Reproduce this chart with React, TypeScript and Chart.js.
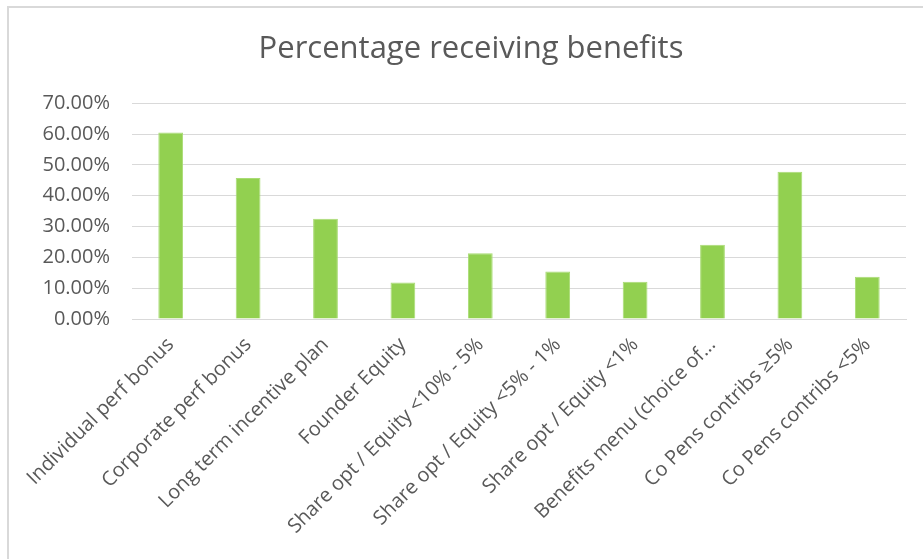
import React, { useEffect, useRef } from "react";
import { Chart, registerables } from "chart.js";

Chart.register(...registerables);

const TITLE = "Percentage receiving benefits";
const CATEGORIES = [
  "Individual perf bonus",
  "Corporate perf bonus",
  "Long term incentive plan",
  "Founder Equity",
  "Share opt / Equity <10% - 5%",
  "Share opt / Equity <5% - 1%",
  "Share opt / Equity <1%",
  "Benefits menu (choice of...",
  "Co Pens contribs \u22655%",
  "Co Pens contribs <5%",
];
const VALUES = [60.5, 45.7, 32.5, 11.8, 21.3, 15.4, 12.1, 24.1, 47.8, 13.7];
const Y_MIN = 0;
const Y_MAX = 70;
const Y_STEP = 10;

const FONT = "'Open Sans', 'Liberation Sans', sans-serif";
const TEXT_COLOR = "#595959";

export default function App() {
  const ref = useRef<HTMLCanvasElement | null>(null);

  useEffect(() => {
    if (!ref.current) return;
    const chart = new Chart(ref.current, {
      type: "bar",
      data: {
        labels: CATEGORIES,
        datasets: [
          {
            label: "Percentage",
            data: VALUES,
            backgroundColor: "#92D050",
            borderColor: "#A9DC74",
            borderWidth: 1,
            categoryPercentage: 1,
            barPercentage: 0.32,
          },
        ],
      },
      options: {
        responsive: false,
        animation: false,
        layout: { padding: { left: 36, right: 17, top: 0, bottom: 0 } },
        plugins: {
          legend: { display: false },
          tooltip: { enabled: false },
          title: {
            display: true,
            text: TITLE,
            color: TEXT_COLOR,
            font: { family: FONT, size: 31, weight: "normal", lineHeight: 1.2 },
            padding: { top: 31, bottom: 35 },
          },
        },
        scales: {
          x: {
            grid: { display: false, drawTicks: false },
            border: { display: true, color: "#d9d9d9", width: 1 },
            ticks: {
              color: TEXT_COLOR,
              font: { family: FONT, size: 20 },
              maxRotation: 45,
              minRotation: 45,
              padding: 14,
              autoSkip: false,
            },
            afterFit: (scale: any) => {
              scale.height = 240;
            },
          },
          y: {
            min: Y_MIN,
            max: Y_MAX,
            grid: { color: "#d9d9d9", drawTicks: false, lineWidth: 1 },
            border: { display: false },
            ticks: {
              stepSize: Y_STEP,
              color: TEXT_COLOR,
              font: { family: FONT, size: 20 },
              padding: 22,
              callback: (v: any) => Number(v).toFixed(2) + "%",
            },
            afterFit: (scale: any) => {
              scale.width = 96;
            },
          },
        },
      },
    });
    return () => chart.destroy();
  }, []);

  return (
    <div style={{ position: "fixed", left: 0, top: 0, width: 923, height: 559, background: "#fff", overflow: "hidden" }}>
      <div
        style={{
          position: "absolute",
          left: 7,
          top: 6,
          width: 930,
          height: 570,
          borderTop: "2px solid #d9d9d9",
          borderLeft: "2px solid #d9d9d9",
          boxSizing: "border-box",
        }}
      />
      <canvas ref={ref} width={923} height={559} style={{ position: "absolute", left: 0, top: 0 }} />
    </div>
  );
}
